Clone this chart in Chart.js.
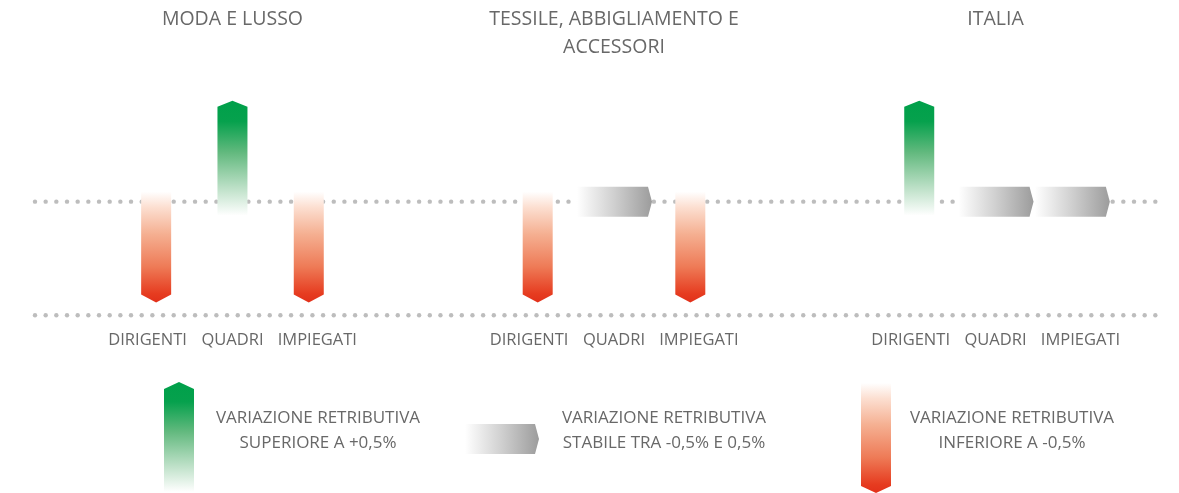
<!DOCTYPE html>
<html>
<head>
<meta charset="utf-8">
<script src="https://cdn.jsdelivr.net/npm/chart.js@4/dist/chart.umd.min.js"></script>
<style>
  body { margin: 0; background: #fff; }
  #wrap { width: 1179px; height: 493px; position: relative; }
</style>
</head>
<body>
<div id="wrap"><canvas id="chart"></canvas></div>
<script>
// categories and groups
const categories = ["DIRIGENTI", "QUADRI", "IMPIEGATI"];
const groups = [["MODA E LUSSO", ""], ["TESSILE, ABBIGLIAMENTO E", "ACCESSORI"], ["ITALIA", ""]];

// +1 = variazione superiore a +0,5%, 0 = stabile, -1 = inferiore a -0,5%
const modaLusso = [-1, 1, -1];
const tessile = [-1, 0, -1];
const italia = [1, 0, 0];

const legendLabels = [
  ["VARIAZIONE RETRIBUTIVA", "SUPERIORE A +0,5%"],
  ["VARIAZIONE RETRIBUTIVA", "STABILE TRA -0,5% E 0,5%"],
  ["VARIAZIONE RETRIBUTIVA", "INFERIORE A -0,5%"],
];

const textColor = "#686868";
const dotColor = "#bdbdbd";
const greenStops = [[0, "#00a04a"], [0.18, "#06a14d"], [0.45, "#62b97e"], [0.75, "#badfc5"], [1, "#ffffff"]];
const redStops = [[0, "#e2301a"], [0.08, "#e63c20"], [0.32, "#ee7a56"], [0.62, "#f5b092"], [0.86, "#fcdfd1"], [1, "#ffffff"]];
const grayStops = [[0, "#ffffff"], [0.5, "#cfcfcf"], [1, "#9c9c9c"]];

// 13 slots: 3 columns per group, 2 empty slots between groups
// (outer labels nudged apart a little with spaces, like the original)
const series = [modaLusso, tessile, italia];
const slotLabels = [];
const slotTitles = [];
const slotValues = [];
series.forEach((vals, g) => {
  if (g > 0) {
    slotLabels.push("", "");
    slotTitles.push("", "");
    slotValues.push(null, null);
  }
  categories.forEach((c, j) => {
    slotLabels.push(j === 0 ? c + "    " : j === 2 ? "    " + c : c);
    slotTitles.push(j === 1 ? groups[g] : "");
    slotValues.push(vals[j]);
  });
});

function vArrow(ctx, cx, w, tailY, tipY, depth, stops) {
  const s = Math.sign(tipY - tailY);
  const neck = tipY - s * depth;
  const g = ctx.createLinearGradient(0, tipY, 0, tailY);
  stops.forEach(([o, c]) => g.addColorStop(o, c));
  ctx.beginPath();
  ctx.moveTo(cx - w / 2, tailY);
  ctx.lineTo(cx - w / 2, neck);
  ctx.lineTo(cx, tipY);
  ctx.lineTo(cx + w / 2, neck);
  ctx.lineTo(cx + w / 2, tailY);
  ctx.closePath();
  ctx.fillStyle = g;
  ctx.fill();
}

function hArrow(ctx, left, tip, cy, h, depth, stops) {
  const g = ctx.createLinearGradient(left, 0, tip, 0);
  stops.forEach(([o, c]) => g.addColorStop(o, c));
  ctx.beginPath();
  ctx.moveTo(left, cy - h / 2);
  ctx.lineTo(tip - depth, cy - h / 2);
  ctx.lineTo(tip, cy);
  ctx.lineTo(tip - depth, cy + h / 2);
  ctx.lineTo(left, cy + h / 2);
  ctx.closePath();
  ctx.fillStyle = g;
  ctx.fill();
}

function dotLine(ctx, x0, x1, y) {
  ctx.fillStyle = dotColor;
  for (let x = x0; x <= x1; x += 10.67) {
    ctx.beginPath();
    ctx.arc(x, y, 2.2, 0, Math.PI * 2);
    ctx.fill();
  }
}

const arrowPlugin = {
  id: "arrows",
  beforeDatasetsDraw(chart) {
    const { ctx, chartArea, scales } = chart;
    ctx.save();
    const x0 = chartArea.left - 83;
    const x1 = chartArea.right + 55;
    dotLine(ctx, x0, x1, scales.y.getPixelForValue(0));
    dotLine(ctx, x0, x1, chartArea.bottom);
    ctx.restore();
  },
  afterDatasetsDraw(chart) {
    const { ctx } = chart;
    const meta = chart.getDatasetMeta(0);
    const data = chart.data.datasets[0].data;
    ctx.save();
    meta.data.forEach((el, i) => {
      const v = data[i];
      if (v === null || v === undefined) return;
      const p = el.getProps(["x", "y", "base", "width"], true);
      if (v > 0) {
        vArrow(ctx, p.x, p.width, p.base + 14, p.y, 6, greenStops);
      } else if (v < 0) {
        vArrow(ctx, p.x, p.width, p.base - 10, p.y, 8, redStops);
      } else {
        hArrow(ctx, p.x - 37, p.x + 38, p.base, 30, 4, grayStops);
      }
    });

    // legend
    vArrow(ctx, 179, 30, 492, 382, 7, greenStops);
    hArrow(ctx, 465, 539, 439, 30, 4, grayStops);
    vArrow(ctx, 876, 30, 383, 493, 7, redStops);
    ctx.fillStyle = textColor;
    ctx.font = "500 17px 'Open Sans', sans-serif";
    ctx.textAlign = "center";
    ctx.textBaseline = "middle";
    const centers = [318, 664, 1012];
    legendLabels.forEach((lines, i) => {
      lines.forEach((t, k) => ctx.fillText(t, centers[i], 418 + k * 25));
    });
    ctx.restore();
  },
};

Chart.defaults.font.family = "'Open Sans', sans-serif";
Chart.defaults.font.weight = 500;
Chart.defaults.color = textColor;

new Chart(document.getElementById("chart"), {
  type: "bar",
  data: {
    labels: slotLabels,
    datasets: [
      {
        data: slotValues,
        backgroundColor: "rgba(0,0,0,0)",
        borderWidth: 0,
        barThickness: 30,
      },
    ],
  },
  options: {
    responsive: true,
    maintainAspectRatio: false,
    animation: false,
    events: [],
    layout: { padding: { left: 118, right: 69, top: 0, bottom: 128 } },
    plugins: { legend: { display: false }, tooltip: { enabled: false } },
    scales: {
      x: {
        grid: { display: false, drawTicks: false },
        border: { display: false },
        ticks: {
          autoSkip: false,
          maxRotation: 0,
          padding: 15,
          color: textColor,
          font: { size: 16.5, lineHeight: 1.2, weight: 500 },
        },
      },
      x2: {
        type: "category",
        position: "top",
        labels: slotTitles,
        offset: true,
        grid: { display: false, drawTicks: false },
        border: { display: false },
        ticks: {
          autoSkip: false,
          maxRotation: 0,
          padding: 5.75,
          color: textColor,
          font: { size: 19.5, lineHeight: 1.41, weight: 500 },
        },
      },
      y: { display: false, min: -1.125, max: 1.339 },
    },
  },
  plugins: [arrowPlugin],
});
</script>
</body>
</html>
